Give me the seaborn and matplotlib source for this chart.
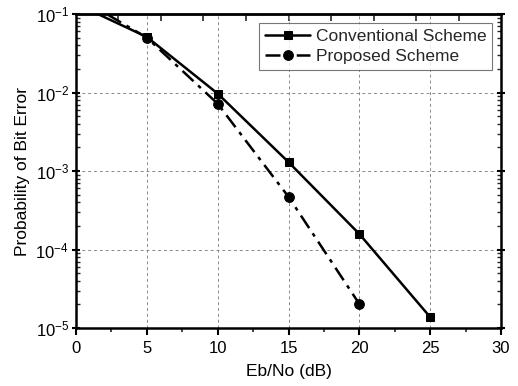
import numpy as np
import pandas as pd
import matplotlib
matplotlib.use("Agg")
import matplotlib.pyplot as plt
import seaborn as sns
from matplotlib.ticker import LogLocator, NullFormatter, MultipleLocator

ebno = [0, 5, 10, 15, 20, 25]
conventional = [0.135, 0.051, 0.0097, 0.0013, 0.000158, 0.0000138]
ebno_prop = [0, 5, 10, 15, 20]
proposed = [0.17, 0.050, 0.0072, 0.00047, 0.0000203]

sns.set_theme(style="white")
plt.rcParams['font.family'] = ['Liberation Sans', 'DejaVu Sans']
plt.rcParams['mathtext.fontset'] = 'custom'
plt.rcParams['mathtext.rm'] = 'Liberation Sans'
plt.rcParams['mathtext.it'] = 'Liberation Sans'

fig = plt.figure(figsize=(5.18, 3.86), dpi=100)
ax = fig.add_axes([0.1467, 0.150, 0.8205, 0.8137])

df1 = pd.DataFrame({"x": ebno, "y": conventional})
df2 = pd.DataFrame({"x": ebno_prop, "y": proposed})

sns.lineplot(data=df1, x="x", y="y", ax=ax, color="black", lw=1.8,
             marker="s", markersize=6, markeredgecolor="black",
             label="Conventional Scheme")
sns.lineplot(data=df2, x="x", y="y", ax=ax, color="black", lw=1.8,
             marker="o", markersize=7, markeredgecolor="black",
             linestyle=(0, (6, 2.5, 1.5, 2.5)),
             label="Proposed Scheme")

ax.set_yscale("log")
ax.set_xlim(0, 30)
ax.set_ylim(1e-5, 1e-1)

ax.xaxis.set_major_locator(MultipleLocator(5))
ax.xaxis.set_minor_locator(MultipleLocator(2.5))
ax.set_yticks([1e-5, 1e-4, 1e-3, 1e-2, 1e-1])
ax.set_yticklabels([r"$10^{-5}$", r"$10^{-4}$", r"$10^{-3}$", r"$10^{-2}$", r"$10^{-1}$"])
ax.yaxis.set_minor_locator(LogLocator(base=10, subs=np.arange(2, 10)))
ax.yaxis.set_minor_formatter(NullFormatter())

ax.grid(True, which="major", color="#888888", linestyle=(0, (3, 3)), linewidth=0.7)

for s in ax.spines.values():
    s.set_linewidth(1.8)
    s.set_color("black")

ax.tick_params(axis="x", which="major", direction="out", length=5, width=1.5,
               labelsize=12, colors="black", bottom=True, top=False, pad=4)
ax.tick_params(axis="x", which="minor", direction="out", length=3, width=1.2,
               bottom=True, top=False)
ax.tick_params(axis="y", which="major", direction="inout", length=6, width=1.5,
               labelsize=12, colors="black", left=True, right=True, pad=2)
ax.tick_params(axis="y", which="minor", direction="in", length=3, width=1.0,
               left=True, right=True)

# top axis ticks (inward, every 3 units)
sec = ax.secondary_xaxis("top")
sec.set_xticks(np.arange(3, 30, 3))
sec.set_xticklabels([])
sec.tick_params(direction="in", length=5, width=1.2)
sec.spines["top"].set_linewidth(1.8)

ax.set_xlabel("Eb/No (dB)", fontsize=12.5, labelpad=6, color="black")
ax.set_ylabel("Probability of Bit Error", fontsize=12.5, labelpad=4, color="black")

leg = ax.legend(loc="upper right", fontsize=12.5, frameon=True, fancybox=False,
                edgecolor="#555555", handlelength=2.6, handletextpad=0.3,
                borderpad=0.35, labelspacing=0.3, borderaxespad=0.5)
leg.get_frame().set_linewidth(0.8)

fig.savefig("out.png", dpi=100)
